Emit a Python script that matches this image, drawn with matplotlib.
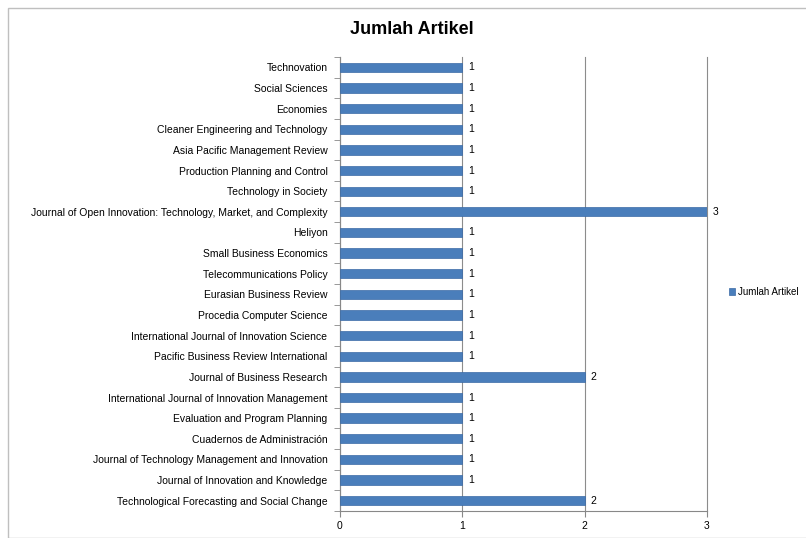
import matplotlib
matplotlib.use('Agg')
import matplotlib.pyplot as plt
from matplotlib.patches import Rectangle

# data, listed bottom to top as in the chart
journals = [
    'Technological Forecasting and Social Change',
    'Journal of Innovation and Knowledge',
    'Journal of Technology Management and Innovation',
    'Cuadernos de Administración',
    'Evaluation and Program Planning',
    'International Journal of Innovation Management',
    'Journal of Business Research',
    'Pacific Business Review International',
    'International Journal of Innovation Science',
    'Procedia Computer Science',
    'Eurasian Business Review',
    'Telecommunications Policy',
    'Small Business Economics',
    'Heliyon',
    'Journal of Open Innovation: Technology, Market, and Complexity',
    'Technology in Society',
    'Production Planning and Control',
    'Asia Pacific Management Review',
    'Cleaner Engineering and Technology',
    'Economies',
    'Social Sciences',
    'Technovation',
]
jumlah = [2, 1, 1, 1, 1, 1, 2, 1, 1, 1, 1, 1, 1, 1, 3, 1, 1, 1, 1, 1, 1, 1]
x_ticks = [0, 1, 2, 3]

bar_color = '#4A7EBB'
font = 'Liberation Sans'

fig = plt.figure(figsize=(8.06, 5.38), dpi=100)
ax = fig.add_axes([0.4218, 0.0502, 0.877 - 0.4218, 0.894 - 0.0502])

# outer chart frame
fig.patches.append(Rectangle((8 / 806, 0), 1, 1 - 8 / 538, transform=fig.transFigure,
                             fill=False, edgecolor='#BFBFBF', linewidth=1.0))

pos = list(range(len(journals)))
bars = ax.barh(pos, jumlah, height=0.45, color=bar_color, edgecolor='#3A6AA6',
               linewidth=0.5, zorder=3, label='Jumlah Artikel')

for p, v in zip(pos, jumlah):
    ax.text(v + 0.05, p, str(v), va='center', ha='left', fontsize=7.5, family=font)

ax.set_xlim(0, 3)
ax.set_ylim(-0.5, len(journals) - 0.5)
ax.set_xticks(x_ticks)
ax.set_xticklabels([str(t) for t in x_ticks], fontsize=7.5, family=font)
ax.set_yticks(pos)
ax.set_yticklabels(journals, fontsize=7.5, family=font)
ax.tick_params(axis='y', length=0, pad=9)
ax.tick_params(axis='x', length=4, color='#888888', pad=3)
ax.set_yticks([p - 0.5 for p in pos] + [len(journals) - 0.5], minor=True)
ax.tick_params(axis='y', which='minor', length=4, color='#888888')

ax.grid(axis='x', color='#8C8C8C', linewidth=0.8, zorder=0)
for line in ax.get_xgridlines():
    line.set_clip_on(False)
for side in ['top', 'right']:
    ax.spines[side].set_visible(False)
ax.spines['left'].set_color('#888888')
ax.spines['bottom'].set_color('#888888')

fig.text(412 / 806, 1 - 30 / 538, 'Jumlah Artikel', ha='center', va='center',
         fontsize=13, fontweight='bold', family=font)

fig.legend(handles=[bars], loc='center left', bbox_to_anchor=(720 / 806, 1 - 292 / 538),
           frameon=False, prop={'family': font, 'size': 7},
           handlelength=0.6, handleheight=0.6, handletextpad=0.3)

fig.savefig('out.png', dpi=100)
